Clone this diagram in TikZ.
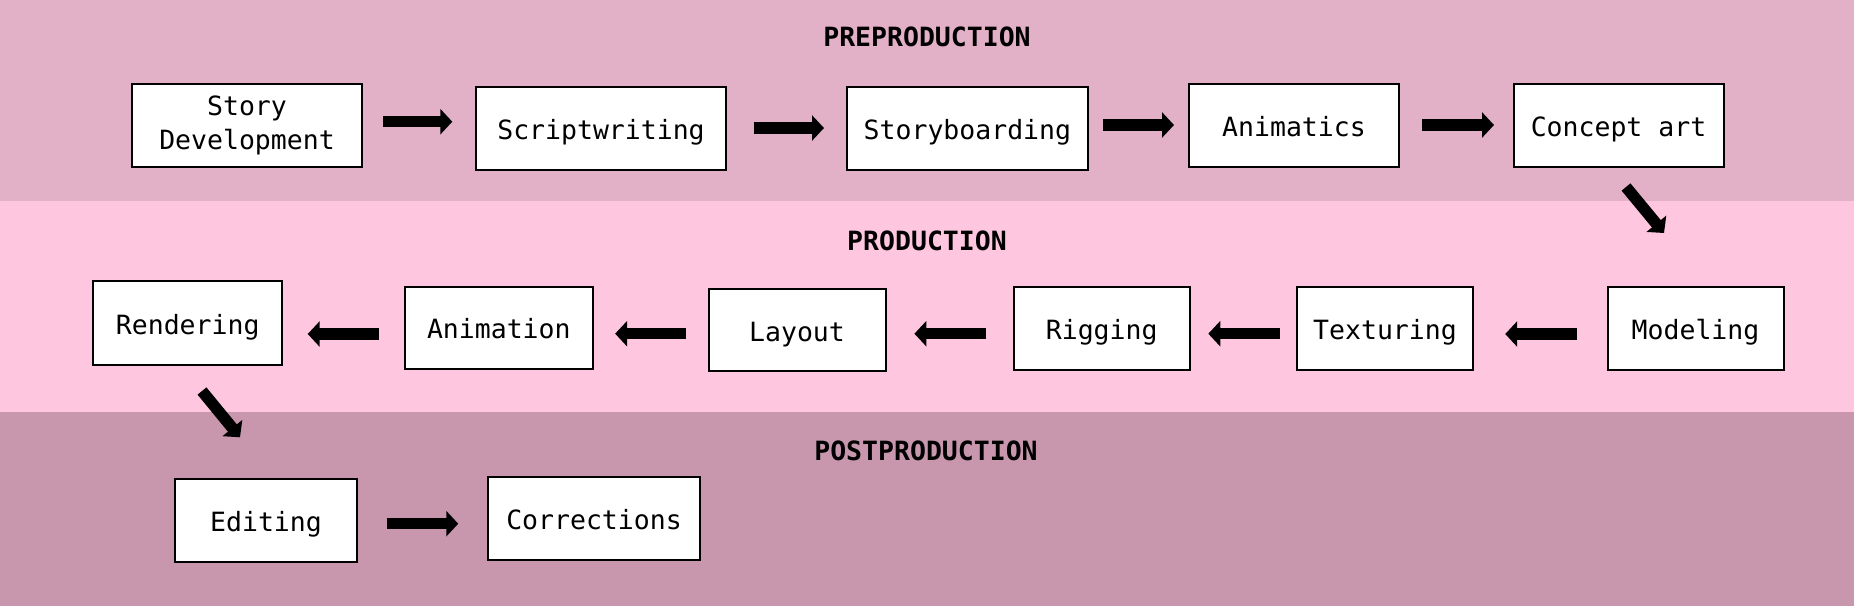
\documentclass[tikz,border=0pt]{standalone}
\usepackage{fontspec}
\newfontfamily\diagfont{DejaVu Sans Mono}
\usetikzlibrary{arrows.meta}
\definecolor{prebg}{RGB}{227,177,199}
\definecolor{prodbg}{RGB}{255,199,223}
\definecolor{postbg}{RGB}{200,151,174}
\begin{document}
\begin{tikzpicture}[x=1pt,y=-1pt,
  stagebox/.style={draw=black, line width=2pt, fill=white, inner sep=0pt,
    font=\diagfont\fontsize{26.5}{34}\selectfont, align=center},
  oneline/.style={text height=22pt, text depth=0pt},
  heading/.style={font=\diagfont\bfseries\fontsize{26.5}{30}\selectfont, anchor=base, inner sep=0pt},
  flow/.style={line width=11.5pt, -{Triangle[length=12pt,width=25pt]}}]
\useasboundingbox (0,0) rectangle (1854,606);
% bands
\fill[prebg] (0,0) rectangle (1854,201);
\fill[prodbg] (0,201) rectangle (1854,412);
\fill[postbg] (0,412) rectangle (1854,606);
% headings
\node[heading] (pre) at (927,46) {PREPRODUCTION};
\node[heading] (prod) at (927,250) {PRODUCTION};
\node[heading] (post) at (926,460) {POSTPRODUCTION};
% preproduction
\node[stagebox, minimum width=230pt, minimum height=83pt] (story) at (247,125.5) {Story\\Development};
\node[stagebox, oneline, minimum width=250pt, minimum height=83pt] (script) at (601,128.3) {Scriptwriting};
\node[stagebox, oneline, minimum width=241pt, minimum height=83pt] (storyboard) at (967.4,128) {Storyboarding};
\node[stagebox, oneline, minimum width=210pt, minimum height=83pt] (animatics) at (1294,125.3) {Animatics};
\node[stagebox, oneline, minimum width=210pt, minimum height=83pt] (concept) at (1618.5,125.3) {Concept art};
% production
\node[stagebox, oneline, minimum width=189pt, minimum height=84pt] (rendering) at (187.7,323) {Rendering};
\node[stagebox, oneline, minimum width=188.5pt, minimum height=82pt] (animation) at (498.8,327.8) {Animation};
\node[stagebox, oneline, minimum width=177pt, minimum height=82pt] (layout) at (797,330) {Layout};
\node[stagebox, oneline, minimum width=176pt, minimum height=83pt] (rigging) at (1101.7,328) {Rigging};
\node[stagebox, oneline, minimum width=176pt, minimum height=83pt] (texturing) at (1385,328.3) {Texturing};
\node[stagebox, oneline, minimum width=176pt, minimum height=83pt] (modeling) at (1695.5,328.3) {Modeling};
% postproduction
\node[stagebox, oneline, minimum width=181.5pt, minimum height=83pt] (editing) at (266,520.3) {Editing};
\node[stagebox, oneline, minimum width=211.5pt, minimum height=83pt] (corrections) at (594,518) {Corrections};
% connectors
\draw[flow] ([shift={(20,-3.8)}]story.east) -- ([shift={(-22.7,-6.6)}]script.west);
\draw[flow] ([shift={(27,-0.3)}]script.east) -- ([shift={(-21.9,0)}]storyboard.west);
\draw[flow] ([shift={(14.1,-3)}]storyboard.east) -- ([shift={(-14,-0.3)}]animatics.west);
\draw[flow] ([shift={(22,-0.3)}]animatics.east) -- ([shift={(-18.5,-0.3)}]concept.west);
\draw[flow] ([shift={(7.5,19.2)}]concept.south) -- ([shift={(-31.5,-52.8)}]modeling.north);
\draw[flow] ([shift={(-29.7,5.7)}]modeling.west) -- ([shift={(31.2,5.7)}]texturing.east);
\draw[flow] ([shift={(-16.1,5.4)}]texturing.west) -- ([shift={(17.6,5.7)}]rigging.east);
\draw[flow] ([shift={(-26.7,5.7)}]rigging.west) -- ([shift={(27.9,3.7)}]layout.east);
\draw[flow] ([shift={(-21.5,3.7)}]layout.west) -- ([shift={(21.1,5.9)}]animation.east);
\draw[flow] ([shift={(-24.5,6.2)}]animation.west) -- ([shift={(24.5,11)}]rendering.east);
\draw[flow] ([shift={(14.3,25)}]rendering.south) -- ([shift={(-26,-40.5)}]editing.north);
\draw[flow] ([shift={(29.5,3.4)}]editing.east) -- ([shift={(-29,5.7)}]corrections.west);
\end{tikzpicture}
\end{document}
